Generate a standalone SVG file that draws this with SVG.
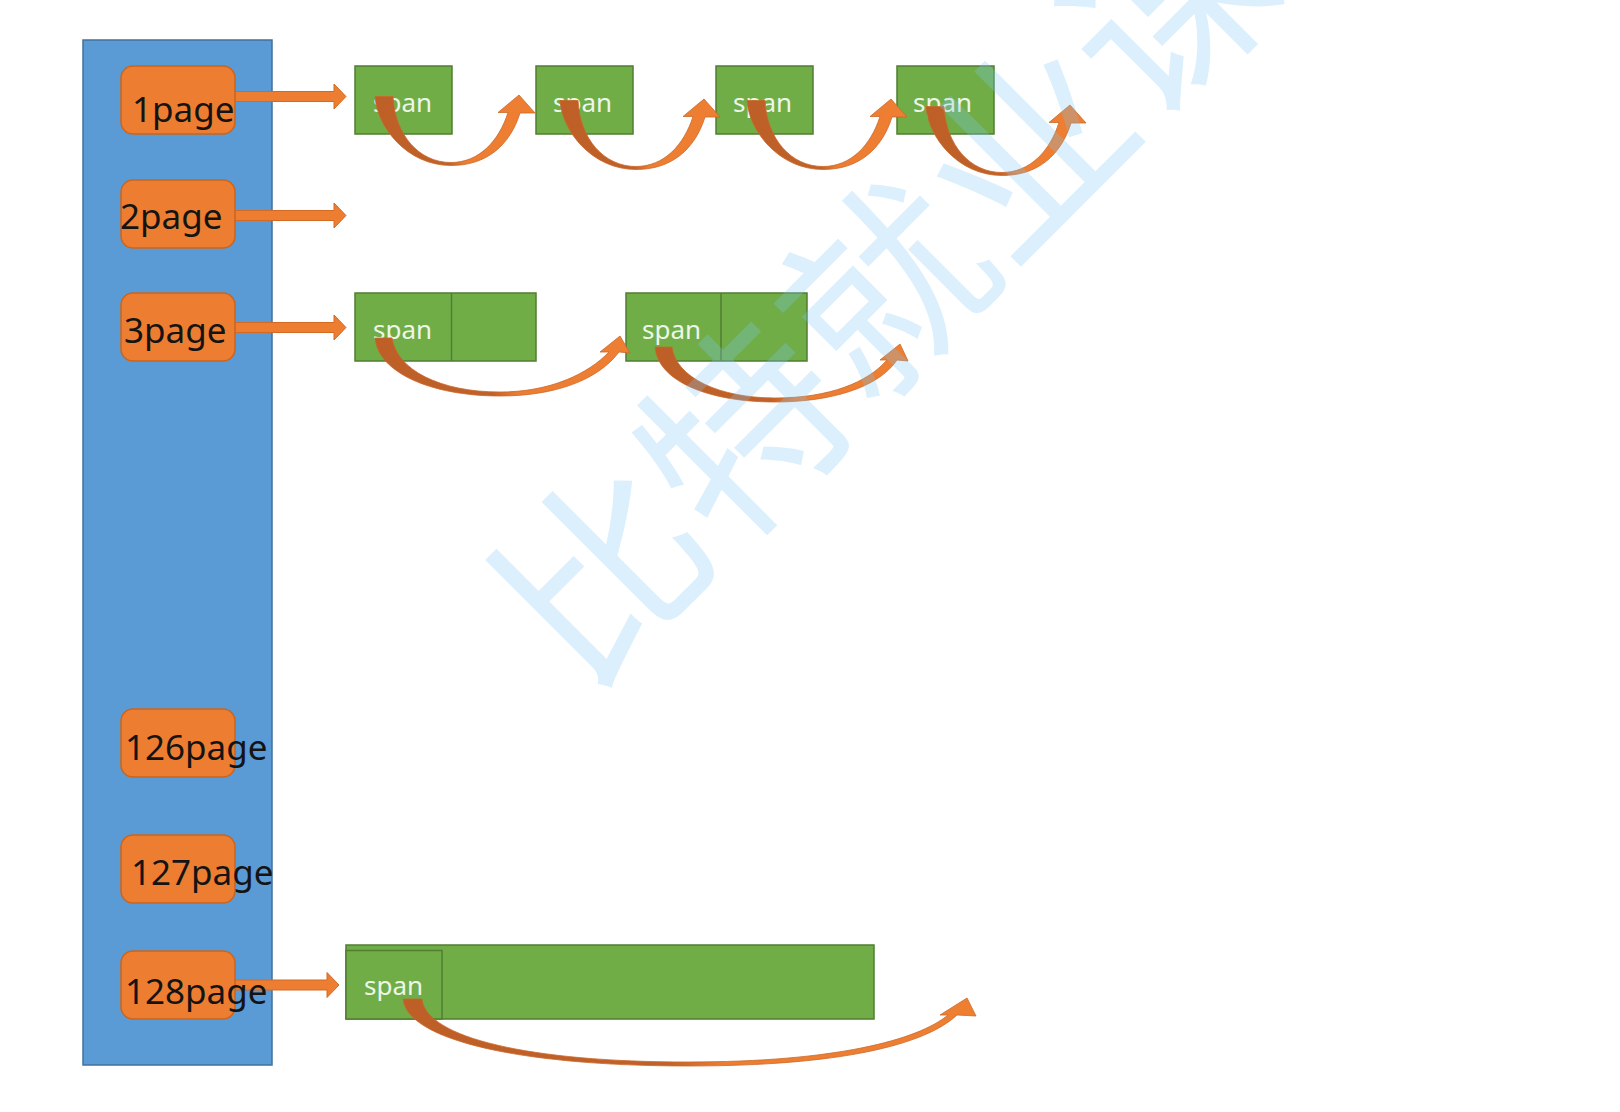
<svg xmlns="http://www.w3.org/2000/svg" width="1620" height="1112" viewBox="0 0 1620 1112">
<defs>
<style>
.col{fill:#5b9bd5;stroke:#41719c;stroke-width:1.5}
.page{fill:#ed7d31;stroke:#c8651f;stroke-width:1.5}
.ptxt{font-family:"Noto Sans","Liberation Sans",sans-serif;font-size:35px;fill:#141414}
.span{fill:#70ad47;stroke:#507e32;stroke-width:1.5}
.div{stroke:#507e32;stroke-width:1.5;fill:none}
.stxt{font-family:"Noto Sans","Liberation Sans",sans-serif;font-size:26px;fill:#eef6e8}
.arr{fill:#ed7d31;stroke:#d26a26;stroke-width:1}
.curl{fill:url(#curlGrad);stroke:#c9682a;stroke-width:0.8}
.wm{font-family:"Noto Sans CJK SC","Noto Sans",sans-serif;font-size:200px;fill:#7cc4f4;fill-opacity:0.28}
</style>
<linearGradient id="curlGrad" x1="0" y1="0" x2="1" y2="0">
<stop offset="0" stop-color="#bf5f28"/>
<stop offset="0.46" stop-color="#c0612a"/>
<stop offset="0.56" stop-color="#ed7d31"/>
<stop offset="1" stop-color="#ee7f31"/>
</linearGradient>
<path id="curl" class="curl" d="M0,1.5 C2,32 32,70.5 76,70.5 C112,70.5 135,50 145,18 L160,18 L144,0 L123,17.5 L133,17.5 C124,46 104,67.5 76,67.5 C44,67.5 20,40 18,1.5 Z"/>
</defs>
<rect width="1620" height="1112" fill="#ffffff"/>

<g id="pagecache">
<rect class="col" x="83" y="40" width="189" height="1025"/>
</g>

<g id="span-row1-1"><rect class="span" x="355" y="66" width="97" height="68"/><text class="stxt" x="373" y="112">span</text></g>
<g id="span-row1-2"><rect class="span" x="536" y="66" width="97" height="68"/><text class="stxt" x="553" y="112">span</text></g>
<g id="span-row1-3"><rect class="span" x="716" y="66" width="97" height="68"/><text class="stxt" x="733" y="112">span</text></g>
<g id="span-row1-4"><rect class="span" x="897" y="66" width="97" height="68"/><text class="stxt" x="913" y="112">span</text></g>

<g id="span-row3-1"><rect class="span" x="355" y="293" width="181" height="68"/><line class="div" x1="451.5" y1="293" x2="451.5" y2="361"/><text class="stxt" x="373" y="339">span</text></g>
<g id="span-row3-2"><rect class="span" x="626" y="293" width="181" height="68"/><line class="div" x1="721" y1="293" x2="721" y2="361"/><text class="stxt" x="642" y="339">span</text></g>

<g id="span-row128"><rect class="span" x="346" y="945" width="528" height="74"/><rect class="span" x="346" y="950.5" width="96" height="68.5"/><text class="stxt" x="364" y="995">span</text></g>

<g id="connectors">
<path class="arr" d="M234,91.5 H334 V84 L346,96.5 L334,109 V101.5 H234 Z"/>
<path class="arr" d="M234,210.5 H334 V203 L346,215.5 L334,228 V220.5 H234 Z"/>
<path class="arr" d="M234,322.5 H334 V315 L346,327.5 L334,340 V332.5 H234 Z"/>
<path class="arr" d="M227,980 H327 V972.5 L339,985 L327,997.5 V990 H227 Z"/>
<use href="#curl" transform="translate(375,95)"/>
<use href="#curl" transform="translate(560,99)"/>
<use href="#curl" transform="translate(747,99)"/>
<use href="#curl" transform="translate(926,105)"/>
<path class="curl" d="M375,338 C378,372 430,396 500,396 C555,396 598,380 619,352 L630,353 L620,336 L600,352 L609,352 C588,374 550,392 500,392 C440,392 397,370 392,338 Z"/>
<path class="curl" d="M655,347 C658,382 710,402 775,402 C830,402 878,388 897,360 L908,361 L900,344 L880,360 L887,360 C868,382 830,398 775,398 C720,398 676,378 672,347 Z"/>
<path class="curl" d="M403,999 C407,1040 520,1066 688,1066 C840,1066 925,1045 957,1015 L976,1016 L967,998 L940,1015 L948,1015 C918,1040 835,1062 688,1062 C530,1062 426,1038 422,999 Z"/>
</g>

<g id="page1"><rect class="page" x="121" y="66" width="114" height="68" rx="12"/><text class="ptxt" x="132" y="122">1page</text></g>
<g id="page2"><rect class="page" x="121" y="180" width="114" height="68" rx="12"/><text class="ptxt" x="120" y="229">2page</text></g>
<g id="page3"><rect class="page" x="121" y="293" width="114" height="68" rx="12"/><text class="ptxt" x="124" y="343">3page</text></g>
<g id="page126"><rect class="page" x="121" y="709" width="114" height="68" rx="12"/><text class="ptxt" x="125" y="760">126page</text></g>
<g id="page127"><rect class="page" x="121" y="835" width="114" height="68" rx="12"/><text class="ptxt" x="131" y="885">127page</text></g>
<g id="page128"><rect class="page" x="121" y="951" width="114" height="68" rx="12"/><text class="ptxt" x="125" y="1004">128page</text></g>

<text class="wm" transform="translate(887,291) rotate(-45)" text-anchor="middle" y="72">比特就业课</text>
</svg>
